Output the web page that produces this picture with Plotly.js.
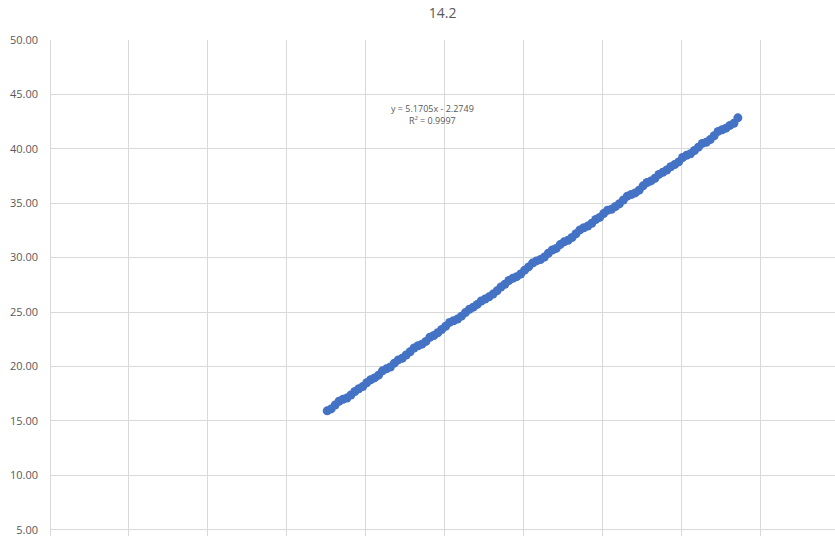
<!DOCTYPE html>
<html>
<head>
<meta charset="utf-8">
<script src="https://cdn.plot.ly/plotly-3.0.1.min.js"></script>
<style>
  html, body { margin: 0; padding: 0; background: #ffffff; }
  #chart { width: 835px; height: 536px; }
</style>
</head>
<body>
<div id="chart"></div>
<script>
// Measured series
const xValues = [
  3.51, 3.56, 3.61, 3.66, 3.71, 3.76, 3.81, 3.86, 3.91, 3.96,
  4.01, 4.06, 4.11, 4.16, 4.21, 4.26, 4.31, 4.36, 4.41, 4.46,
  4.51, 4.56, 4.61, 4.66, 4.71, 4.76, 4.81, 4.86, 4.91, 4.96,
  5.01, 5.06, 5.11, 5.16, 5.21, 5.26, 5.31, 5.36, 5.41, 5.46,
  5.51, 5.56, 5.61, 5.66, 5.71, 5.76, 5.81, 5.86, 5.91, 5.96,
  6.01, 6.06, 6.11, 6.16, 6.21, 6.26, 6.31, 6.36, 6.41, 6.46,
  6.51, 6.56, 6.61, 6.66, 6.71, 6.76, 6.81, 6.86, 6.91, 6.96,
  7.01, 7.06, 7.11, 7.16, 7.21, 7.26, 7.31, 7.36, 7.41, 7.46,
  7.51, 7.56, 7.61, 7.66, 7.71, 7.76, 7.81, 7.86, 7.91, 7.96,
  8.01, 8.06, 8.11, 8.16, 8.21, 8.26, 8.31, 8.36, 8.41, 8.46,
  8.51, 8.56, 8.61, 8.66, 8.71
];
const yValues = [
  15.92, 16.10, 16.45, 16.80, 16.98, 17.10, 17.38, 17.70, 17.95, 18.15,
  18.50, 18.78, 18.95, 19.20, 19.60, 19.78, 19.95, 20.30, 20.60, 20.75,
  21.05, 21.35, 21.70, 21.90, 22.05, 22.30, 22.68, 22.85, 23.10, 23.40,
  23.70, 24.05, 24.20, 24.35, 24.62, 24.95, 25.25, 25.45, 25.70, 26.02,
  26.20, 26.40, 26.65, 26.95, 27.30, 27.55, 27.90, 28.10, 28.25, 28.50,
  28.85, 29.15, 29.50, 29.70, 29.82, 30.05, 30.40, 30.70, 30.85, 31.20,
  31.45, 31.60, 31.85, 32.20, 32.55, 32.75, 32.90, 33.15, 33.50, 33.70,
  34.05, 34.35, 34.45, 34.70, 34.95, 35.30, 35.65, 35.80, 35.95, 36.20,
  36.60, 36.90, 37.05, 37.30, 37.65, 37.85, 38.05, 38.35, 38.55, 38.80,
  39.20, 39.40, 39.55, 39.85, 40.15, 40.50, 40.60, 40.85, 41.20, 41.60,
  41.75, 41.90, 42.15, 42.35, 42.85
];
const yTickValues = [5, 10, 15, 20, 25, 30, 35, 40, 45, 50];
const yTickLabels = ["5.00", "10.00", "15.00", "20.00", "25.00", "30.00", "35.00", "40.00", "45.00", "50.00"];
const chartTitle = "14.2";
const fitLabel = "y = 5.1705x - 2.2749<br>R² = 0.9997";

const gridColor = "#d9d9d9";
const textColor = "#595959";
const fontFamily = "Open Sans, Liberation Sans, sans-serif";

const trace = {
  type: "scatter",
  mode: "markers",
  x: xValues,
  y: yValues,
  marker: { color: "#4472c4", size: 9, line: { width: 0 } },
  hoverinfo: "x+y"
};

const layout = {
  width: 835,
  height: 536,
  margin: { l: 50, r: 0, t: 40, b: 0 },
  paper_bgcolor: "#ffffff",
  plot_bgcolor: "#ffffff",
  showlegend: false,
  font: { family: fontFamily, color: textColor },
  title: {
    text: chartTitle,
    x: 0.53,
    xanchor: "center",
    y: 0.975,
    yanchor: "middle",
    font: { size: 14, color: textColor, family: fontFamily }
  },
  xaxis: {
    range: [0, 9.94],
    dtick: 1,
    tick0: 0,
    showgrid: true,
    gridcolor: gridColor,
    gridwidth: 1,
    zeroline: true,
    zerolinecolor: gridColor,
    zerolinewidth: 1,
    showline: false,
    showticklabels: false,
    ticks: ""
  },
  yaxis: {
    range: [4.42, 50],
    tickvals: yTickValues,
    ticktext: yTickLabels,
    showgrid: true,
    gridcolor: gridColor,
    gridwidth: 1,
    zeroline: false,
    showline: false,
    ticks: "",
    ticklabelstandoff: 11,
    ticklabeloverflow: "allow",
    tickfont: { size: 11, color: textColor, family: fontFamily }
  },
  annotations: [{
    text: fitLabel,
    x: 4.84,
    y: 43.15,
    xref: "x",
    yref: "y",
    showarrow: false,
    xanchor: "center",
    yanchor: "middle",
    align: "center",
    font: { size: 9, color: textColor, family: fontFamily }
  }]
};

Plotly.newPlot("chart", [trace], layout, { displayModeBar: false, staticPlot: true });
</script>
</body>
</html>
